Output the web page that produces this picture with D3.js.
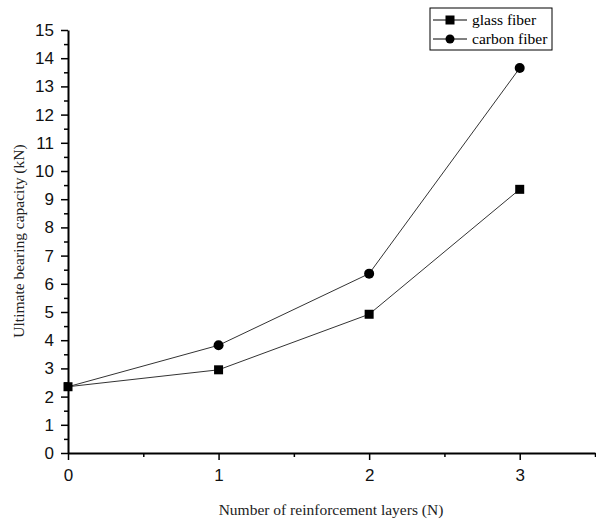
<!DOCTYPE html>
<html>
<head>
<meta charset="utf-8">
<script src="https://cdn.jsdelivr.net/npm/d3@7"></script>
<style>
  body { margin: 0; background: #fff; }
  svg { display: block; }
</style>
</head>
<body>
<div id="chart"></div>
<script>
var layers = [0, 1, 2, 3];
var glassFiber = [2.35, 2.95, 4.92, 9.35];
var carbonFiber = [2.35, 3.82, 6.36, 13.65];
var seriesNames = ["glass fiber", "carbon fiber"];
var yTicks = d3.range(0, 16, 1);

var width = 596, height = 522;
var margin = { left: 68, top: 30, right: 1, bottom: 69 };

var svg = d3.select("#chart").append("svg")
    .attr("width", width)
    .attr("height", height);

var x = d3.scaleLinear().domain([0, 3.5]).range([margin.left, width - margin.right]);
var y = d3.scaleLinear().domain([0, 15]).range([height - margin.bottom, margin.top]);

// minor ticks first, then major
svg.append("g")
    .attr("transform", "translate(0," + y(0) + ")")
    .call(d3.axisBottom(x).tickValues(d3.range(0.5, 3.6, 1)).tickSize(4).tickFormat(""))
    .call(function (g) { g.select(".domain").remove(); });

var xAxis = svg.append("g")
    .attr("transform", "translate(0," + y(0) + ")")
    .call(d3.axisBottom(x).tickValues(layers).tickSize(7).tickPadding(9).tickFormat(d3.format("d")).tickSizeOuter(0));

svg.append("g")
    .attr("transform", "translate(" + x(0) + ",0)")
    .call(d3.axisLeft(y).tickValues(d3.range(0.5, 15, 1)).tickSize(4).tickFormat(""))
    .call(function (g) { g.select(".domain").remove(); });

var yAxis = svg.append("g")
    .attr("transform", "translate(" + x(0) + ",0)")
    .call(d3.axisLeft(y).tickValues(yTicks).tickSize(7).tickPadding(7).tickSizeOuter(0));

svg.selectAll(".domain").attr("stroke", "#000").attr("stroke-width", 2);
svg.selectAll(".tick line").attr("stroke", "#000").attr("stroke-width", 1.5);
svg.selectAll(".tick text")
    .attr("fill", "#111")
    .style("font-family", "Liberation Sans, Arial, sans-serif")
    .style("font-size", "17px");

// axis titles
svg.append("text")
    .attr("x", 331)
    .attr("y", 515)
    .attr("text-anchor", "middle")
    .style("font-family", "Liberation Serif, Times New Roman, serif")
    .style("font-size", "15.5px")
    .attr("fill", "#222")
    .text("Number of reinforcement layers (N)");

svg.append("text")
    .attr("transform", "translate(24," + 241 + ") rotate(-90)")
    .attr("text-anchor", "middle")
    .style("font-family", "Liberation Serif, Times New Roman, serif")
    .style("font-size", "15.5px")
    .attr("fill", "#222")
    .text("Ultimate bearing capacity (kN)");

var line = d3.line()
    .x(function (d, i) { return x(layers[i]); })
    .y(function (d) { return y(d); });

var seriesData = [glassFiber, carbonFiber];

svg.selectAll(".series")
    .data(seriesData)
    .enter().append("path")
    .attr("class", "series")
    .attr("fill", "none")
    .attr("stroke", "#333")
    .attr("stroke-width", 1)
    .attr("d", line);

// glass fiber: squares
svg.selectAll(".sq")
    .data(glassFiber)
    .enter().append("rect")
    .attr("class", "sq")
    .attr("x", function (d, i) { return x(layers[i]) - 4.5; })
    .attr("y", function (d) { return y(d) - 4.5; })
    .attr("width", 9)
    .attr("height", 9)
    .attr("fill", "#000");

// carbon fiber: circles (first point hidden beneath square in original)
svg.selectAll(".dot")
    .data(carbonFiber.slice(1))
    .enter().append("circle")
    .attr("class", "dot")
    .attr("cx", function (d, i) { return x(layers[i + 1]); })
    .attr("cy", function (d) { return y(d); })
    .attr("r", 5)
    .attr("fill", "#000");

// legend
var legend = svg.append("g").attr("transform", "translate(430,8)");
legend.append("rect")
    .attr("width", 122)
    .attr("height", 42)
    .attr("fill", "#fff")
    .attr("stroke", "#000")
    .attr("stroke-width", 1);

var items = legend.selectAll(".item")
    .data(seriesNames)
    .enter().append("g")
    .attr("transform", function (d, i) { return "translate(0," + (12 + i * 19) + ")"; });

items.append("line")
    .attr("x1", 3).attr("x2", 37)
    .attr("stroke", "#000").attr("stroke-width", 1);

items.filter(function (d, i) { return i === 0; }).append("rect")
    .attr("x", 15.5).attr("y", -4.5).attr("width", 9).attr("height", 9).attr("fill", "#000");
items.filter(function (d, i) { return i === 1; }).append("circle")
    .attr("cx", 20).attr("cy", 0).attr("r", 4.5).attr("fill", "#000");

items.append("text")
    .attr("x", 42)
    .attr("y", 5)
    .style("font-family", "Liberation Serif, Times New Roman, serif")
    .style("font-size", "15.5px")
    .attr("fill", "#000")
    .text(function (d) { return d; });
</script>
</body>
</html>
